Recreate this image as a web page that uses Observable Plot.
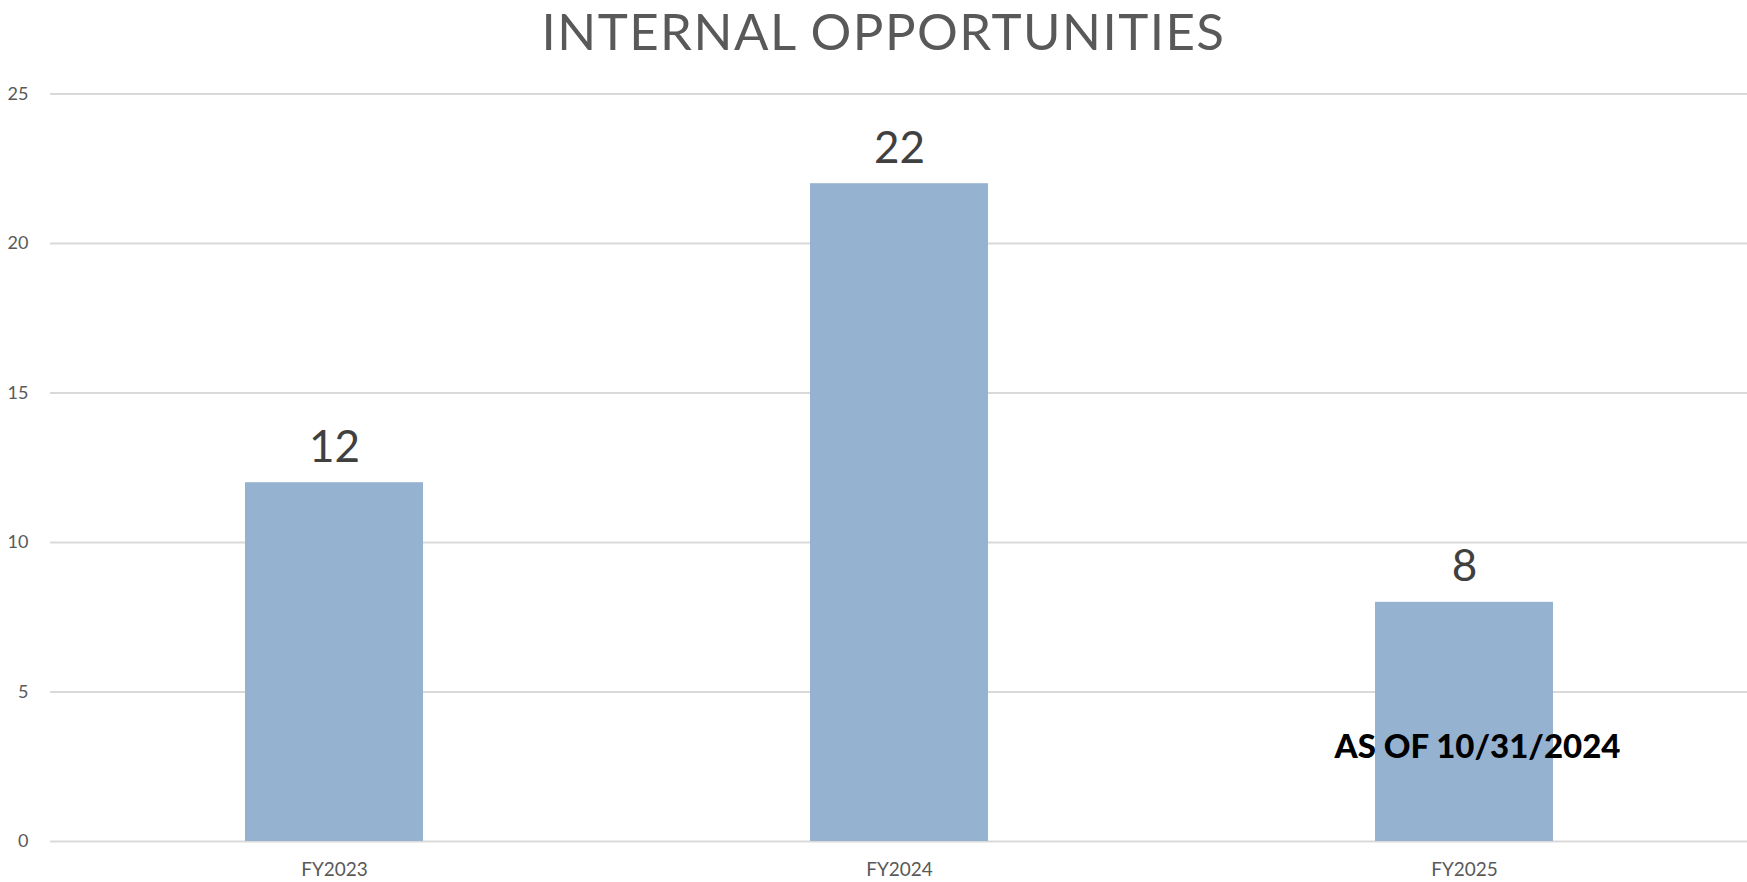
<!DOCTYPE html>
<html>
<head>
<meta charset="utf-8">
<script src="https://cdn.jsdelivr.net/npm/d3@7"></script>
<script src="https://cdn.jsdelivr.net/npm/@observablehq/plot@0.6"></script>
<style>
  html, body { margin: 0; padding: 0; background: #fff; }
  #wrap { width: 1747px; height: 882px; position: relative; overflow: hidden; }
  #title { position: absolute; left: 10px; top: 0; width: 1747px; height: 70px; text-align: center;
           font-family: Lato, "Open Sans", sans-serif; font-weight: 400; font-size: 51px; color: #595959;
           line-height: 1.2; white-space: nowrap; }
  #title span { display: inline-block; }
  #chart { position: absolute; left: 0; top: 70px; }
</style>
</head>
<body>
<div id="wrap">
  <div id="title"><span id="titletext">INTERNAL OPPORTUNITIES</span></div>
  <div id="chart"></div>
</div>
<script>
const categories = ["FY2023", "FY2024", "FY2025"];
const values = [12, 22, 8];
const yTicks = [0, 5, 10, 15, 20, 25];
const noteText = ["AS OF 10/31/2024"];
const noteCategory = ["FY2025"];
const noteValue = [2.78];

const data = categories.map((c, i) => ({category: c, value: values[i]}));
const notes = noteText.map((t, i) => ({text: t, category: noteCategory[i], value: noteValue[i]}));

// fit title width
const tt = document.getElementById("titletext");
const targetW = 684;
const w0 = tt.getBoundingClientRect().width;
tt.style.letterSpacing = ((targetW - w0) / tt.textContent.length) + "px";

const chart = Plot.plot({
  width: 1747,
  height: 812,
  marginLeft: 50,
  marginRight: 0,
  marginTop: 23.5,
  marginBottom: 41,
  style: {fontFamily: "Lato, 'Open Sans', sans-serif", background: "#fff"},
  x: {domain: categories, paddingInner: 0.685, paddingOuter: 0.3425, label: null},
  y: {domain: [0, 25], ticks: yTicks, label: null},
  marks: [
    Plot.ruleY(yTicks, {stroke: "#d9d9d9", strokeWidth: 2}),
    Plot.barY(data, {x: "category", y: "value", fill: "#95b3d1"}),
    Plot.text(data, {x: "category", y: "value", text: d => String(d.value), lineAnchor: "bottom", dy: -21,
      fontSize: 44, fill: "#404040"}),
    Plot.text(notes, {x: "category", y: "value", text: "text", lineAnchor: "bottom", dx: 13,
      fontSize: 33, fontWeight: 900, fill: "#000"}),
    Plot.axisY({ticks: yTicks, tickSize: 0, tickPadding: 22, fontSize: 18, fill: "#595959", label: null}),
    Plot.axisX({tickSize: 0, tickPadding: 21, fontSize: 19, fill: "#595959", label: null})
  ]
});
document.getElementById("chart").appendChild(chart);
</script>
</body>
</html>
